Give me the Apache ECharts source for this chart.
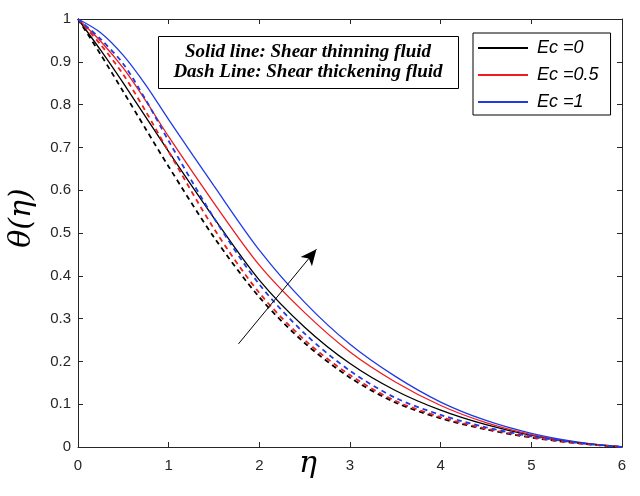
<!DOCTYPE html>
<html>
<head>
<meta charset="utf-8">
<script src="https://cdn.jsdelivr.net/npm/echarts@6/dist/echarts.min.js"></script>
<style>
html, body { margin: 0; padding: 0; background: #fff; }
#main { width: 640px; height: 496px; }
</style>
</head>
<body>
<div id="main"></div>
<script>
// eta grid (denser near the wall)
const eta = [0, 0.25, 0.5, 0.75, 1, 1.5, 2, 2.5, 3, 3.5, 4, 4.5, 5, 5.5, 6];
// solid lines: shear thinning fluid
const thinEc0   = [1, 0.927, 0.850, 0.770, 0.690, 0.535, 0.390, 0.280, 0.195, 0.132, 0.086, 0.052, 0.027, 0.010, 0];
const thinEc05  = [1, 0.948, 0.885, 0.808, 0.725, 0.570, 0.425, 0.314, 0.222, 0.152, 0.097, 0.057, 0.029, 0.011, 0];
const thinEc1   = [1, 0.968, 0.915, 0.845, 0.765, 0.610, 0.460, 0.338, 0.240, 0.165, 0.105, 0.062, 0.032, 0.012, 0];
// dashed lines: shear thickening fluid
const thickEc0  = [1, 0.917, 0.830, 0.742, 0.655, 0.490, 0.350, 0.243, 0.162, 0.104, 0.067, 0.041, 0.022, 0.009, 0];
const thickEc05 = [1, 0.940, 0.870, 0.783, 0.690, 0.510, 0.360, 0.250, 0.168, 0.108, 0.070, 0.043, 0.023, 0.009, 0];
const thickEc1  = [1, 0.953, 0.895, 0.810, 0.715, 0.535, 0.380, 0.265, 0.178, 0.115, 0.075, 0.046, 0.025, 0.010, 0];
const legendNames = ['Ec =0', 'Ec =0.5', 'Ec =1'];
// arrow (increasing Ec), from tail to head in data units
const arrowFrom = [1.77, 0.241];
const arrowTo = [2.63, 0.462];

const pairs = (ys) => eta.map((x, i) => [x, ys[i]]);
const axisColor = '#262626';

let myChart = echarts.init(document.getElementById('main'), null, { renderer: 'canvas' });

let line = (name, ys, color, dashed) => ({
    name: name,
    type: 'line',
    data: pairs(ys),
    smooth: 0.3,
    symbol: 'none',
    silent: true,
    lineStyle: {
        color: color,
        width: dashed ? 1.8 : 1.3,
        type: dashed ? [5, 4] : 'solid'
    },
    itemStyle: { color: color }
});

const xBase = {
    type: 'value', min: 0, max: 6, interval: 1,
    axisLine: { show: true, onZero: false, lineStyle: { color: axisColor, width: 1 } },
    axisTick: { show: true, inside: true, length: 5, lineStyle: { color: axisColor } },
    splitLine: { show: false }
};
const yBase = {
    type: 'value', min: 0, max: 1, interval: 0.1,
    axisLine: { show: true, onZero: false, lineStyle: { color: axisColor, width: 1 } },
    axisTick: { show: true, inside: true, length: 5, lineStyle: { color: axisColor } },
    splitLine: { show: false }
};

myChart.setOption({
    backgroundColor: '#fff',
    animation: false,
    grid: { left: 78, right: 18, top: 19, bottom: 49 },
    xAxis: [
        Object.assign({}, xBase, {
            position: 'bottom',
            axisLabel: { color: axisColor, fontSize: 15, fontFamily: 'Liberation Sans', margin: 11 }
        }),
        Object.assign({}, xBase, { position: 'top', axisLabel: { show: false } })
    ],
    yAxis: [
        Object.assign({}, yBase, {
            position: 'left',
            axisLabel: { color: axisColor, fontSize: 15, fontFamily: 'Liberation Sans', margin: 7 }
        }),
        Object.assign({}, yBase, { position: 'right', axisLabel: { show: false } })
    ],
    legend: {
        data: legendNames,
        orient: 'vertical',
        left: 473,
        top: 33,
        itemWidth: 50,
        itemHeight: 14,
        itemGap: 9,
        padding: [6, 12, 4, 4],
        borderColor: '#000',
        borderWidth: 1,
        backgroundColor: '#fff',
        selectedMode: false,
        itemStyle: { opacity: 0 },
        textStyle: {
            fontSize: 18, fontStyle: 'italic', fontFamily: 'Liberation Sans',
            color: '#000', padding: [0, 0, 0, 4]
        }
    },
    series: [
        line(legendNames[0], thinEc0, '#000000', false),
        line(legendNames[1], thinEc05, '#ee1c1c', false),
        line(legendNames[2], thinEc1, '#1f3be6', false),
        line('thick 0', thickEc0, '#000000', true),
        line('thick 0.5', thickEc05, '#ee1c1c', true),
        Object.assign(line('thick 1', thickEc1, '#1f3be6', true), {
            markLine: {
                silent: true,
                symbol: ['none', 'arrow'],
                symbolSize: [11, 16],
                label: { show: false },
                lineStyle: { color: '#000', width: 1, type: 'solid' },
                data: [[{ coord: arrowFrom }, { coord: arrowTo }]]
            }
        })
    ],
    graphic: [
        {
            type: 'rect', left: 158, top: 36,
            shape: { width: 300, height: 52 },
            style: { fill: '#fff', stroke: '#000', lineWidth: 1 }
        },
        {
            type: 'text', x: 308, y: 52,
            style: {
                text: 'Solid line: Shear thinning fluid',
                font: 'italic bold 19px "Liberation Serif"',
                fill: '#000', align: 'center', verticalAlign: 'middle'
            }
        },
        {
            type: 'text', x: 308, y: 72,
            style: {
                text: 'Dash Line: Shear thickening fluid',
                font: 'italic bold 19px "Liberation Serif"',
                fill: '#000', align: 'center', verticalAlign: 'middle'
            }
        },
        {
            type: 'text', x: 22, y: 218, rotation: Math.PI / 2,
            style: {
                text: 'θ(η)',
                font: 'italic 30px "DejaVu Serif"',
                fill: '#000', align: 'center', verticalAlign: 'middle'
            }
        },
        {
            type: 'text', x: 308, y: 464,
            style: {
                text: 'η',
                font: 'italic 30px "DejaVu Serif"',
                fill: '#000', align: 'center', verticalAlign: 'middle'
            }
        }
    ]
});
</script>
</body>
</html>
